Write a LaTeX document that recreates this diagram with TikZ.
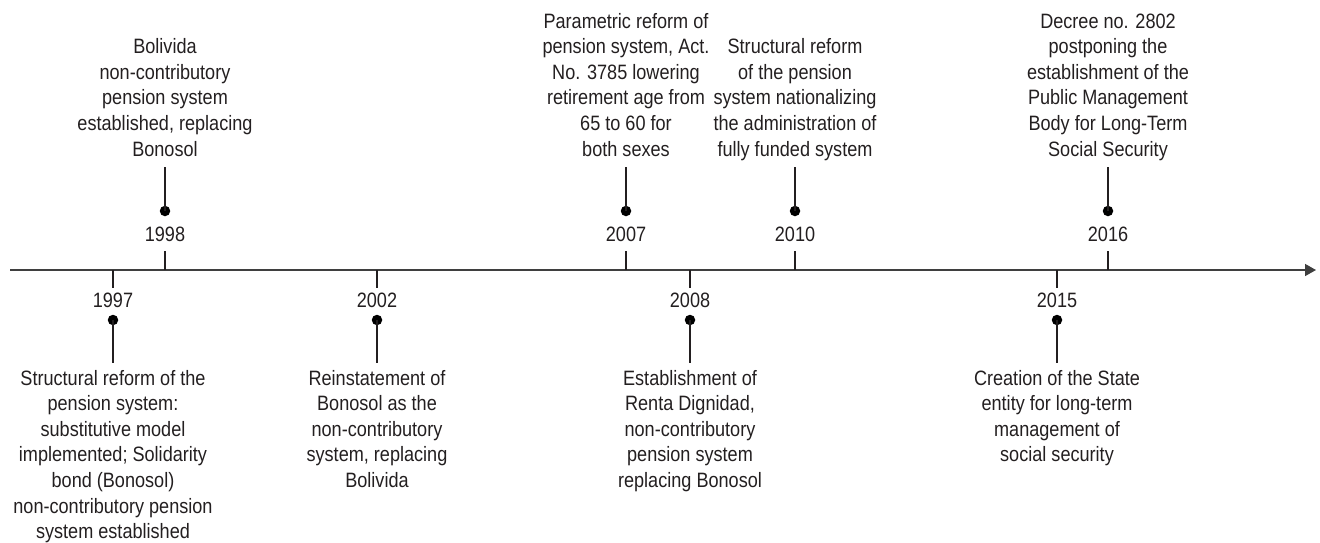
\documentclass[tikz,border=0pt]{standalone}
\usepackage{fontspec}
\setmainfont[FakeStretch=0.87]{Liberation Sans}
\usetikzlibrary{arrows.meta}
\definecolor{ink}{HTML}{231F20}
\definecolor{axisc}{HTML}{3F3F3F}
\begin{document}
\begin{tikzpicture}[x=1pt,y=-1pt,
  every node/.style={font=\fontsize{20.8}{25.6}\selectfont, text=ink},
  evtext/.style={align=center, inner sep=0pt},
  yr/.style={inner sep=0pt},
  dotnode/.style={circle, fill=black, minimum size=10.5pt, inner sep=0pt},
  axisline/.style={draw=axisc, line width=1.5pt, -{Triangle[length=11pt,width=12pt]}},
  tick/.style={draw=ink, line width=1.2pt},
  stem/.style={draw=ink, line width=1.2pt}]
\useasboundingbox (0,0) rectangle (1320,542);

% axis
\coordinate (axL) at (10,270);
\coordinate (axR) at (1316,270);
\draw[axisline] (axL) -- (axR);

% ---------- top events ----------
\foreach \name/\x/\yr/\txt in {
  e1998/165/1998/{\strut Bolivida\\non-contributory\\pension system\\established, replacing\\Bonosol\strut},
  e2007/626/2007/{\strut Parametric reform of\\pension system, Act.\\No. 3785 lowering\\retirement age from\\65 to 60 for\\both sexes\strut},
  e2010/795/2010/{\strut Structural reform\\of the pension\\system nationalizing\\the administration of\\fully funded system\strut},
  e2016/1108/2016/{\strut Decree no. 2802\\postponing the\\establishment of the\\Public Management\\Body for Long-Term\\Social Security\strut}}{
  \coordinate (\name-ax) at (\x,270);
  \node[yr] (\name-yr) at (\x,234) {\yr};
  \node[dotnode] (\name-dot) at (\x,211) {};
  \node[evtext, anchor=south] (\name-txt) at (\x,164) {\txt};
  \draw[tick, shorten >=9pt] (\name-ax) -- (\name-yr.south);
  \draw[stem, shorten >=3pt] (\name-dot.center) -- (\name-txt.south);
}

% ---------- bottom events ----------
\foreach \name/\x/\yr/\txt in {
  e1997/113/1997/{\strut Structural reform of the\\pension system:\\substitutive model\\implemented; Solidarity\\bond (Bonosol)\\non-contributory pension\\system established\strut},
  e2002/377/2002/{\strut Reinstatement of\\Bonosol as the\\non-contributory\\system, replacing\\Bolivida\strut},
  e2008/690/2008/{\strut Establishment of\\Renta Dignidad,\\non-contributory\\pension system\\replacing Bonosol\strut},
  e2015/1057/2015/{\strut Creation of the State\\entity for long-term\\management of\\social security\strut}}{
  \coordinate (\name-ax) at (\x,270);
  \node[yr] (\name-yr) at (\x,300) {\yr};
  \node[dotnode] (\name-dot) at (\x,320) {};
  \node[evtext, anchor=north] (\name-txt) at (\x,367) {\txt};
  \draw[tick, shorten >=4pt] (\name-ax) -- (\name-yr.north);
  \draw[stem, shorten >=4pt] (\name-dot.center) -- (\name-txt.north);
}
\end{tikzpicture}
\end{document}
